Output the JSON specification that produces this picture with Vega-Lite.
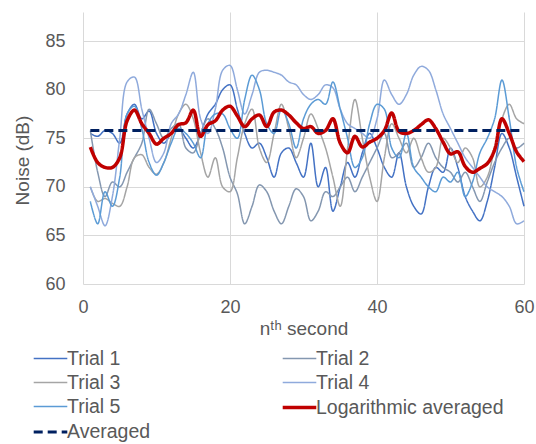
{
  "$schema": "https://vega.github.io/schema/vega-lite/v6.json",
  "width": 441,
  "height": 272,
  "autosize": {"type": "none"},
  "padding": {"left": 83, "top": 12, "right": 12, "bottom": 160},
  "background": "white",
  "config": {
    "view": {"stroke": null},
    "font": "Liberation Sans",
    "axis": {
      "labelColor": "#595959",
      "titleColor": "#595959",
      "titleFontWeight": "normal",
      "labelFont": "Liberation Sans",
      "titleFont": "Liberation Sans",
      "gridColor": "#D9D9D9",
      "gridWidth": 1,
      "ticks": false,
      "domain": false
    },
    "legend": {
      "orient": "none",
      "direction": "horizontal",
      "legendX": -45,
      "legendY": 335,
      "columns": 2,
      "columnPadding": 124,
      "rowPadding": 3,
      "padding": 0,
      "symbolType": "M-1.6,0L1.6,0",
      "symbolSize": 441,
      "labelFontSize": 19.5,
      "labelFont": "Liberation Sans",
      "labelColor": "#595959",
      "labelOffset": 4,
      "labelLimit": 400
    }
  },
  "data": {
    "values": [
      {"x": 1, "Trial 1": 75.5, "Trial 2": 75.8, "Trial 3": 70.0, "Trial 4": 70.0, "Trial 5": 68.5, "Logarithmic averaged": 74.1, "Averaged": 75.8},
      {"x": 2, "Trial 1": 75.2, "Trial 2": 71.5, "Trial 3": 68.5, "Trial 4": 68.0, "Trial 5": 66.2, "Logarithmic averaged": 72.5, "Averaged": 75.8},
      {"x": 3, "Trial 1": 75.8, "Trial 2": 69.0, "Trial 3": 68.8, "Trial 4": 66.0, "Trial 5": 69.5, "Logarithmic averaged": 72.0, "Averaged": 75.8},
      {"x": 4, "Trial 1": 75.5, "Trial 2": 70.5, "Trial 3": 68.3, "Trial 4": 69.0, "Trial 5": 68.0, "Logarithmic averaged": 72.0, "Averaged": 75.8},
      {"x": 5, "Trial 1": 74.5, "Trial 2": 70.0, "Trial 3": 68.0, "Trial 4": 75.0, "Trial 5": 71.0, "Logarithmic averaged": 73.0, "Averaged": 75.8},
      {"x": 6, "Trial 1": 77.5, "Trial 2": 71.5, "Trial 3": 70.0, "Trial 4": 80.8, "Trial 5": 77.5, "Logarithmic averaged": 76.8, "Averaged": 75.8},
      {"x": 7, "Trial 1": 78.5, "Trial 2": 73.0, "Trial 3": 73.0, "Trial 4": 81.3, "Trial 5": 78.3, "Logarithmic averaged": 77.9, "Averaged": 75.8},
      {"x": 8, "Trial 1": 77.0, "Trial 2": 74.5, "Trial 3": 73.3, "Trial 4": 78.0, "Trial 5": 76.0, "Logarithmic averaged": 76.5, "Averaged": 75.8},
      {"x": 9, "Trial 1": 77.8, "Trial 2": 78.0, "Trial 3": 72.0, "Trial 4": 75.0, "Trial 5": 72.5, "Logarithmic averaged": 75.5, "Averaged": 75.8},
      {"x": 10, "Trial 1": 75.5, "Trial 2": 76.5, "Trial 3": 71.3, "Trial 4": 72.5, "Trial 5": 71.2, "Logarithmic averaged": 74.4, "Averaged": 75.8},
      {"x": 11, "Trial 1": 74.5, "Trial 2": 75.0, "Trial 3": 72.5, "Trial 4": 73.5, "Trial 5": 72.5, "Logarithmic averaged": 75.0, "Averaged": 75.8},
      {"x": 12, "Trial 1": 75.5, "Trial 2": 76.0, "Trial 3": 75.0, "Trial 4": 76.5, "Trial 5": 74.5, "Logarithmic averaged": 75.5, "Averaged": 75.8},
      {"x": 13, "Trial 1": 76.0, "Trial 2": 76.5, "Trial 3": 77.5, "Trial 4": 77.5, "Trial 5": 76.0, "Logarithmic averaged": 76.4, "Averaged": 75.8},
      {"x": 14, "Trial 1": 75.0, "Trial 2": 74.0, "Trial 3": 78.5, "Trial 4": 79.5, "Trial 5": 75.5, "Logarithmic averaged": 76.6, "Averaged": 75.8},
      {"x": 15, "Trial 1": 74.0, "Trial 2": 73.5, "Trial 3": 77.0, "Trial 4": 81.8, "Trial 5": 74.5, "Logarithmic averaged": 77.9, "Averaged": 75.8},
      {"x": 16, "Trial 1": 75.5, "Trial 2": 75.5, "Trial 3": 73.5, "Trial 4": 77.0, "Trial 5": 73.0, "Logarithmic averaged": 75.2, "Averaged": 75.8},
      {"x": 17, "Trial 1": 77.5, "Trial 2": 77.0, "Trial 3": 71.0, "Trial 4": 75.5, "Trial 5": 76.5, "Logarithmic averaged": 76.4, "Averaged": 75.8},
      {"x": 18, "Trial 1": 78.5, "Trial 2": 76.0, "Trial 3": 73.0, "Trial 4": 78.0, "Trial 5": 77.5, "Logarithmic averaged": 76.8, "Averaged": 75.8},
      {"x": 19, "Trial 1": 80.0, "Trial 2": 74.0, "Trial 3": 70.0, "Trial 4": 82.0, "Trial 5": 77.5, "Logarithmic averaged": 77.9, "Averaged": 75.8},
      {"x": 20, "Trial 1": 80.5, "Trial 2": 71.0, "Trial 3": 69.5, "Trial 4": 82.5, "Trial 5": 76.0, "Logarithmic averaged": 78.3, "Averaged": 75.8},
      {"x": 21, "Trial 1": 78.0, "Trial 2": 69.3, "Trial 3": 73.0, "Trial 4": 80.0, "Trial 5": 75.0, "Logarithmic averaged": 77.3, "Averaged": 75.8},
      {"x": 22, "Trial 1": 75.5, "Trial 2": 66.2, "Trial 3": 76.5, "Trial 4": 77.5, "Trial 5": 79.0, "Logarithmic averaged": 76.2, "Averaged": 75.8},
      {"x": 23, "Trial 1": 74.0, "Trial 2": 68.0, "Trial 3": 78.0, "Trial 4": 79.5, "Trial 5": 81.5, "Logarithmic averaged": 77.0, "Averaged": 75.8},
      {"x": 24, "Trial 1": 74.5, "Trial 2": 70.2, "Trial 3": 74.0, "Trial 4": 81.8, "Trial 5": 80.0, "Logarithmic averaged": 77.4, "Averaged": 75.8},
      {"x": 25, "Trial 1": 73.0, "Trial 2": 69.5, "Trial 3": 72.5, "Trial 4": 82.0, "Trial 5": 76.5, "Logarithmic averaged": 76.2, "Averaged": 75.8},
      {"x": 26, "Trial 1": 71.0, "Trial 2": 67.5, "Trial 3": 75.5, "Trial 4": 81.8, "Trial 5": 75.5, "Logarithmic averaged": 77.7, "Averaged": 75.8},
      {"x": 27, "Trial 1": 73.5, "Trial 2": 66.2, "Trial 3": 78.5, "Trial 4": 81.5, "Trial 5": 78.0, "Logarithmic averaged": 77.9, "Averaged": 75.8},
      {"x": 28, "Trial 1": 74.0, "Trial 2": 68.0, "Trial 3": 76.0, "Trial 4": 80.8, "Trial 5": 76.5, "Logarithmic averaged": 77.4, "Averaged": 75.8},
      {"x": 29, "Trial 1": 72.5, "Trial 2": 69.8, "Trial 3": 73.0, "Trial 4": 80.5, "Trial 5": 74.0, "Logarithmic averaged": 76.6, "Averaged": 75.8},
      {"x": 30, "Trial 1": 71.0, "Trial 2": 69.0, "Trial 3": 75.0, "Trial 4": 79.5, "Trial 5": 77.0, "Logarithmic averaged": 76.0, "Averaged": 75.8},
      {"x": 31, "Trial 1": 74.5, "Trial 2": 66.5, "Trial 3": 77.5, "Trial 4": 79.0, "Trial 5": 78.5, "Logarithmic averaged": 76.2, "Averaged": 75.8},
      {"x": 32, "Trial 1": 70.0, "Trial 2": 67.5, "Trial 3": 76.0, "Trial 4": 79.5, "Trial 5": 79.0, "Logarithmic averaged": 75.5, "Averaged": 75.8},
      {"x": 33, "Trial 1": 72.0, "Trial 2": 69.5, "Trial 3": 74.0, "Trial 4": 80.5, "Trial 5": 78.5, "Logarithmic averaged": 75.8, "Averaged": 75.8},
      {"x": 34, "Trial 1": 67.5, "Trial 2": 69.0, "Trial 3": 71.0, "Trial 4": 80.2, "Trial 5": 80.8, "Logarithmic averaged": 77.0, "Averaged": 75.8},
      {"x": 35, "Trial 1": 70.0, "Trial 2": 70.0, "Trial 3": 68.0, "Trial 4": 78.0, "Trial 5": 78.0, "Logarithmic averaged": 74.5, "Averaged": 75.8},
      {"x": 36, "Trial 1": 72.5, "Trial 2": 71.0, "Trial 3": 74.0, "Trial 4": 76.5, "Trial 5": 75.0, "Logarithmic averaged": 73.5, "Averaged": 75.8},
      {"x": 37, "Trial 1": 71.0, "Trial 2": 69.5, "Trial 3": 79.0, "Trial 4": 76.0, "Trial 5": 72.0, "Logarithmic averaged": 75.2, "Averaged": 75.8},
      {"x": 38, "Trial 1": 73.5, "Trial 2": 71.0, "Trial 3": 75.0, "Trial 4": 75.5, "Trial 5": 73.0, "Logarithmic averaged": 74.1, "Averaged": 75.8},
      {"x": 39, "Trial 1": 75.5, "Trial 2": 72.5, "Trial 3": 71.0, "Trial 4": 75.0, "Trial 5": 76.5, "Logarithmic averaged": 74.6, "Averaged": 75.8},
      {"x": 40, "Trial 1": 74.0, "Trial 2": 74.0, "Trial 3": 68.5, "Trial 4": 77.0, "Trial 5": 78.5, "Logarithmic averaged": 75.0, "Averaged": 75.8},
      {"x": 41, "Trial 1": 72.0, "Trial 2": 75.5, "Trial 3": 73.0, "Trial 4": 81.0, "Trial 5": 78.0, "Logarithmic averaged": 75.8, "Averaged": 75.8},
      {"x": 42, "Trial 1": 71.0, "Trial 2": 73.0, "Trial 3": 76.5, "Trial 4": 79.5, "Trial 5": 74.0, "Logarithmic averaged": 77.6, "Averaged": 75.8},
      {"x": 43, "Trial 1": 73.5, "Trial 2": 73.5, "Trial 3": 75.0, "Trial 4": 78.5, "Trial 5": 73.0, "Logarithmic averaged": 75.7, "Averaged": 75.8},
      {"x": 44, "Trial 1": 70.0, "Trial 2": 74.5, "Trial 3": 73.5, "Trial 4": 79.5, "Trial 5": 75.5, "Logarithmic averaged": 75.5, "Averaged": 75.8},
      {"x": 45, "Trial 1": 68.0, "Trial 2": 72.0, "Trial 3": 75.0, "Trial 4": 81.5, "Trial 5": 72.0, "Logarithmic averaged": 75.8, "Averaged": 75.8},
      {"x": 46, "Trial 1": 67.2, "Trial 2": 73.0, "Trial 3": 73.0, "Trial 4": 82.4, "Trial 5": 71.0, "Logarithmic averaged": 76.4, "Averaged": 75.8},
      {"x": 47, "Trial 1": 70.0, "Trial 2": 74.5, "Trial 3": 71.5, "Trial 4": 82.0, "Trial 5": 70.0, "Logarithmic averaged": 76.9, "Averaged": 75.8},
      {"x": 48, "Trial 1": 72.0, "Trial 2": 73.0, "Trial 3": 72.0, "Trial 4": 80.0, "Trial 5": 69.5, "Logarithmic averaged": 76.0, "Averaged": 75.8},
      {"x": 49, "Trial 1": 71.5, "Trial 2": 72.0, "Trial 3": 75.0, "Trial 4": 77.5, "Trial 5": 71.0, "Logarithmic averaged": 74.6, "Averaged": 75.8},
      {"x": 50, "Trial 1": 74.0, "Trial 2": 71.5, "Trial 3": 74.0, "Trial 4": 76.0, "Trial 5": 70.5, "Logarithmic averaged": 73.4, "Averaged": 75.8},
      {"x": 51, "Trial 1": 72.0, "Trial 2": 70.5, "Trial 3": 72.5, "Trial 4": 74.5, "Trial 5": 71.5, "Logarithmic averaged": 73.6, "Averaged": 75.8},
      {"x": 52, "Trial 1": 69.0, "Trial 2": 71.5, "Trial 3": 74.0, "Trial 4": 73.0, "Trial 5": 69.0, "Logarithmic averaged": 72.1, "Averaged": 75.8},
      {"x": 53, "Trial 1": 67.5, "Trial 2": 70.0, "Trial 3": 73.0, "Trial 4": 72.0, "Trial 5": 70.5, "Logarithmic averaged": 71.5, "Averaged": 75.8},
      {"x": 54, "Trial 1": 66.5, "Trial 2": 68.5, "Trial 3": 70.0, "Trial 4": 71.0, "Trial 5": 73.5, "Logarithmic averaged": 71.9, "Averaged": 75.8},
      {"x": 55, "Trial 1": 68.5, "Trial 2": 70.5, "Trial 3": 71.0, "Trial 4": 70.0, "Trial 5": 75.0, "Logarithmic averaged": 72.4, "Averaged": 75.8},
      {"x": 56, "Trial 1": 72.0, "Trial 2": 72.5, "Trial 3": 74.0, "Trial 4": 69.5, "Trial 5": 77.0, "Logarithmic averaged": 73.8, "Averaged": 75.8},
      {"x": 57, "Trial 1": 75.5, "Trial 2": 74.0, "Trial 3": 77.0, "Trial 4": 69.0, "Trial 5": 81.0, "Logarithmic averaged": 77.0, "Averaged": 75.8},
      {"x": 58, "Trial 1": 74.0, "Trial 2": 75.0, "Trial 3": 78.5, "Trial 4": 68.0, "Trial 5": 77.0, "Logarithmic averaged": 75.5, "Averaged": 75.8},
      {"x": 59, "Trial 1": 71.0, "Trial 2": 74.0, "Trial 3": 77.0, "Trial 4": 66.2, "Trial 5": 72.0, "Logarithmic averaged": 73.6, "Averaged": 75.8},
      {"x": 60, "Trial 1": 68.0, "Trial 2": 74.5, "Trial 3": 76.5, "Trial 4": 66.5, "Trial 5": 69.5, "Logarithmic averaged": 72.6, "Averaged": 75.8}
    ]
  },
  "transform": [
    {"fold": ["Trial 1", "Trial 2", "Trial 3", "Trial 4", "Trial 5", "Logarithmic averaged", "Averaged"], "as": ["series", "noise"]}
  ],
  "encoding": {
    "x": {
      "field": "x",
      "type": "quantitative",
      "scale": {"domain": [0, 60], "nice": false},
      "axis": {"values": [0, 20, 40, 60], "title": "nᵗʰ second", "labelFontSize": 18, "titleFontSize": 19, "labelPadding": 14, "titlePadding": 3, "labelFlush": false}
    },
    "y": {
      "field": "noise",
      "type": "quantitative",
      "scale": {"domain": [60, 88], "nice": false, "zero": false},
      "axis": {"values": [60, 65, 70, 75, 80, 85], "title": "Noise (dB)", "labelFontSize": 18, "titleFontSize": 19, "labelPadding": 18, "titleX": -61, "titleY": 148, "titleBaseline": "middle", "titleAngle": -90}
    },
    "color": {
      "field": "series",
      "type": "nominal",
      "scale": {
        "domain": ["Trial 1", "Trial 2", "Trial 3", "Trial 4", "Trial 5", "Logarithmic averaged", "Averaged"],
        "range": ["#4472C4", "#8497B0", "#A5A5A5", "#8FAADC", "#5B9BD5", "#C00000", "#002060"]
      },
      "legend": {"title": null}
    },
    "strokeDash": {
      "field": "series",
      "type": "nominal",
      "scale": {
        "domain": ["Trial 1", "Trial 2", "Trial 3", "Trial 4", "Trial 5", "Logarithmic averaged", "Averaged"],
        "range": [[1, 0], [1, 0], [1, 0], [1, 0], [1, 0], [1, 0], [9, 5]]
      },
      "legend": {"title": null}
    },
    "strokeWidth": {
      "field": "series",
      "type": "nominal",
      "scale": {
        "type": "ordinal",
        "domain": ["Trial 1", "Trial 2", "Trial 3", "Trial 4", "Trial 5", "Logarithmic averaged", "Averaged"],
        "range": [1.5, 1.5, 1.5, 1.5, 1.5, 3.5, 3]
      },
      "legend": {"title": null}
    }
  },
  "layer": [
    {
      "transform": [{"filter": "indexof(['Trial 1','Trial 2','Trial 3','Trial 4','Trial 5'], datum.series) >= 0"}],
      "mark": {"type": "line", "interpolate": "catmull-rom"}
    },
    {
      "transform": [{"filter": "datum.series === 'Logarithmic averaged'"}],
      "mark": {"type": "line", "interpolate": "catmull-rom"}
    },
    {
      "transform": [{"filter": "datum.series === 'Averaged'"}],
      "mark": {"type": "line"}
    }
  ]
}
